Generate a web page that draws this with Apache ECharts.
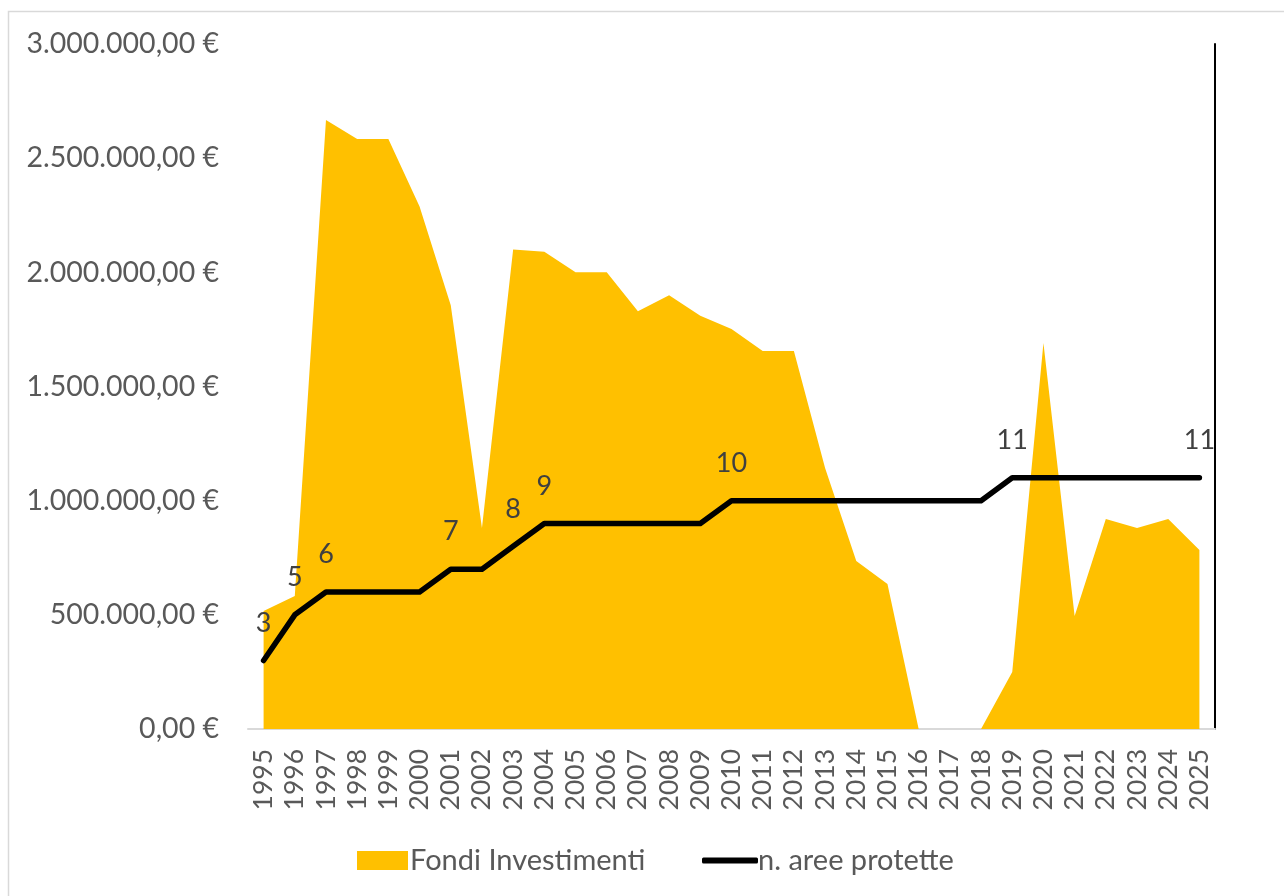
<!DOCTYPE html>
<html>
<head>
<meta charset="utf-8">
<script src="https://cdn.jsdelivr.net/npm/echarts@6/dist/echarts.min.js"></script>
<style>
html,body{margin:0;padding:0;background:#fff;}
#chart{width:1284px;height:896px;}
</style>
</head>
<body>
<div id="chart"></div>
<script>
const years = ['1995','1996','1997','1998','1999','2000','2001','2002','2003','2004','2005','2006','2007','2008','2009','2010','2011','2012','2013','2014','2015','2016','2017','2018','2019','2020','2021','2022','2023','2024','2025'];
const fondiInvestimenti = [517000, 583000, 2667000, 2584000, 2584000, 2288000, 1856000, 880000, 2100000, 2090000, 2000000, 2000000, 1830000, 1900000, 1810000, 1752000, 1655000, 1655000, 1143000, 736000, 635000, 0, 0, 0, 250000, 1690000, 495000, 920000, 880000, 920000, 784000];
const areeProtette = [3, 5, 6, 6, 6, 6, 7, 7, 8, 9, 9, 9, 9, 9, 9, 10, 10, 10, 10, 10, 10, 10, 10, 10, 11, 11, 11, 11, 11, 11, 11];
const labelledYears = ['1995','1996','1997','2001','2003','2004','2010','2019','2025'];
const leftTicks = {min: 0, max: 3000000, interval: 500000};
const rightScale = {min: 0, max: 30};

const FONT = 'Lato';
function euro(v){
  const s = Math.round(v).toString().replace(/\B(?=(\d{3})+(?!\d))/g, '.');
  return s + ',00 €';
}

const lineData = areeProtette.map((v, i) => ({
  value: v,
  label: {show: labelledYears.indexOf(years[i]) >= 0}
}));

const chart = echarts.init(document.getElementById('chart'), null, {renderer: 'canvas'});
chart.setOption({
  backgroundColor: '#ffffff',
  animation: false,
  textStyle: {fontFamily: FONT},
  graphic: [{
    type: 'rect', silent: true, z: -10,
    shape: {x: 8.5, y: 11.5, width: 1400, height: 1000},
    style: {fill: 'none', stroke: '#d9d9d9', lineWidth: 1.5}
  }],
  grid: {left: 248, right: 69, top: 44, bottom: 167, containLabel: false},
  legend: [{
    data: [{name: 'Fondi Investimenti', icon: 'rect'}],
    left: 352, top: 841, itemWidth: 51, itemHeight: 19, itemGap: 0,
    textStyle: {fontFamily: FONT, fontSize: 29, color: '#595959', padding: [0, 0, 0, -3]}
  }, {
    data: [{name: 'n. aree protette', icon: 'roundRect'}],
    left: 697, top: 841, itemWidth: 56, itemHeight: 6,
    textStyle: {fontFamily: FONT, fontSize: 29, color: '#595959', padding: [0, 0, 0, -5]}
  }],
  xAxis: {
    type: 'category',
    data: years,
    boundaryGap: true,
    axisLine: {show: true, lineStyle: {color: '#d9d9d9', width: 2}},
    axisTick: {show: false},
    axisLabel: {rotate: 90, margin: 20, fontFamily: FONT, fontSize: 26.5, color: '#595959', interval: 0},
    splitLine: {show: false}
  },
  yAxis: [{
    type: 'value',
    min: leftTicks.min, max: leftTicks.max, interval: leftTicks.interval,
    axisLine: {show: false},
    axisTick: {show: false},
    splitLine: {show: false},
    axisLabel: {margin: 29, fontFamily: FONT, fontSize: 28.5, color: '#595959', formatter: euro}
  }, {
    type: 'value',
    position: 'right',
    min: rightScale.min, max: rightScale.max,
    axisLine: {show: true, lineStyle: {color: '#000000', width: 2}},
    axisTick: {show: false},
    axisLabel: {show: false},
    splitLine: {show: false}
  }],
  series: [{
    name: 'Fondi Investimenti',
    type: 'line',
    yAxisIndex: 0,
    data: fondiInvestimenti,
    symbol: 'none',
    lineStyle: {width: 0, color: '#FFC000'},
    itemStyle: {color: '#FFC000'},
    areaStyle: {color: '#FFC000', opacity: 1},
    z: 1
  }, {
    name: 'n. aree protette',
    type: 'line',
    yAxisIndex: 1,
    data: lineData,
    symbol: 'circle',
    symbolSize: 4,
    showSymbol: true,
    itemStyle: {color: '#000000'},
    lineStyle: {width: 5.5, color: '#000000', cap: 'round', join: 'round'},
    label: {position: 'top', distance: 22, fontFamily: FONT, fontSize: 27, color: '#404040'},
    z: 3
  }]
});
</script>
</body>
</html>
